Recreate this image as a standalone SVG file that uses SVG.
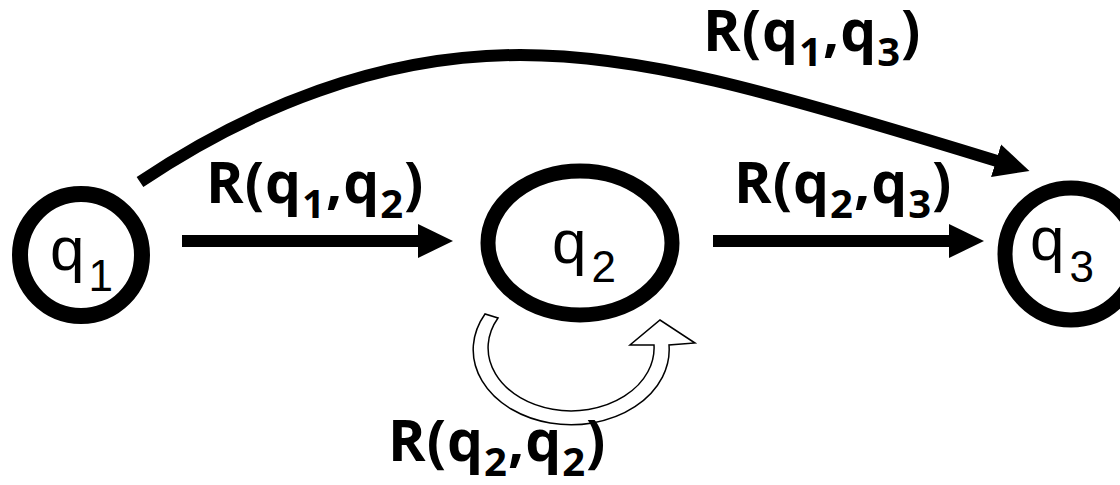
<svg xmlns="http://www.w3.org/2000/svg" width="1120" height="485" viewBox="0 0 1120 485">
<style>
.node{fill:#fff;stroke:#000;stroke-width:16}
.nt{font-family:"Liberation Sans",Arial,sans-serif;font-size:62px;fill:#000}
.ns{font-size:44px}
.edge{fill:none;stroke:#000;stroke-width:12}
.lbl{font-family:"Open Sans",Lato,sans-serif;font-weight:bold;font-size:57px;fill:#000;letter-spacing:1px}
.ls{font-size:40px}
.loop{fill:#fff;stroke:#000;stroke-width:1.5;stroke-linejoin:miter}
#labels{opacity:0.999}
</style>
<defs>
<marker id="ah" markerUnits="userSpaceOnUse" markerWidth="36" markerHeight="36" refX="1" refY="17" orient="auto" viewBox="0 0 36 34">
<path d="M0,0 L35,17 L0,34 Z" fill="#000"/>
</marker>
</defs>
<g id="edges">
<line class="edge" x1="182" y1="241" x2="419" y2="241" marker-end="url(#ah)"/>
<line class="edge" x1="713" y1="241" x2="950" y2="241" marker-end="url(#ah)"/>
<path class="edge" d="M140,182 C250,108 380,55 520,55 C640,55 760,88 997,161" marker-end="url(#ah)"/>
<path class="loop" d="M485,314 A98,75 0 1 0 669,345 L695,343 L660,320 L630,345 L654,345 A83,63 0 1 1 498,318 Z"/>
<g id="labels">
<text class="lbl" x="206" y="203">R(q<tspan class="ls" dy="15">1</tspan><tspan dy="-15">,q</tspan><tspan class="ls" dy="15">2</tspan><tspan dy="-15">)</tspan></text>
<text class="lbl" x="734" y="203">R(q<tspan class="ls" dy="15">2</tspan><tspan dy="-15">,q</tspan><tspan class="ls" dy="15">3</tspan><tspan dy="-15">)</tspan></text>
<text class="lbl" x="703" y="51">R(q<tspan class="ls" dy="15">1</tspan><tspan dy="-15">,q</tspan><tspan class="ls" dy="15">3</tspan><tspan dy="-15">)</tspan></text>
<text class="lbl" x="388" y="461">R(q<tspan class="ls" dy="15">2</tspan><tspan dy="-15">,q</tspan><tspan class="ls" dy="15">2</tspan><tspan dy="-15">)</tspan></text>
</g>
</g>
<g id="q1">
<circle class="node" cx="81" cy="255" r="61"/>
<text class="nt" x="50" y="270">q<tspan class="ns" dx="4" dy="21">1</tspan></text>
</g>
<g id="q2">
<ellipse class="node" cx="580" cy="243" rx="92" ry="72" style="stroke-width:15"/>
<text class="nt" x="552" y="263">q<tspan class="ns" dx="5" dy="19">2</tspan></text>
</g>
<g id="q3">
<circle class="node" cx="1071" cy="254" r="66" style="stroke-width:15"/>
<text class="nt" x="1030" y="260">q<tspan class="ns" dx="5" dy="22">3</tspan></text>
</g>
</svg>
